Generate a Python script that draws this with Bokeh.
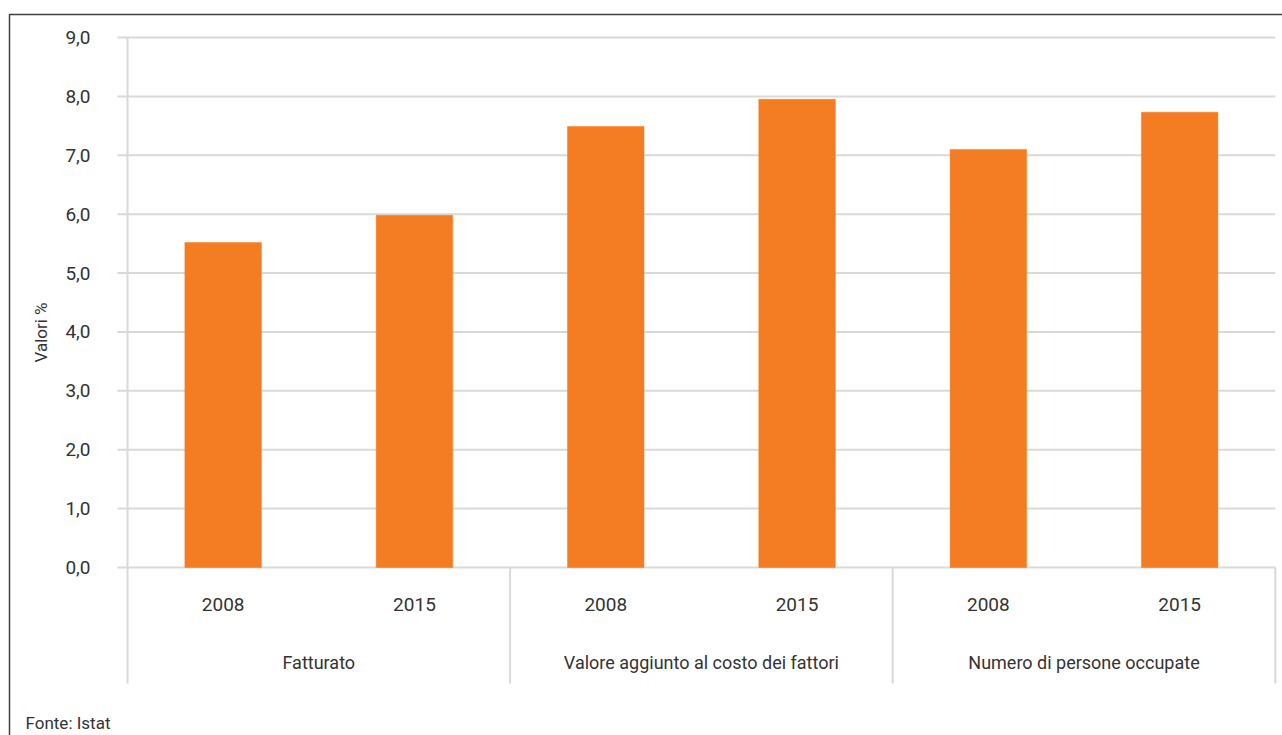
from bokeh.plotting import figure
from bokeh.models import ColumnDataSource, Range1d
from bokeh.core.properties import value
from bokeh.embed import file_html
from bokeh.resources import INLINE
import math

# ---- data ----
groups = ["Fatturato", "Valore aggiunto al costo dei fattori", "Numero di persone occupate"]
years = ["2008", "2015"]
values = [5.52, 5.98, 7.49, 7.95, 7.10, 7.73]
y_ticks = [0, 1, 2, 3, 4, 5, 6, 7, 8, 9]
y_tick_labels = ["0,0", "1,0", "2,0", "3,0", "4,0", "5,0", "6,0", "7,0", "8,0", "9,0"]
y_title = "Valori %"
source_note = "Fonte: Istat"

# ---- layout constants (pixels) ----
W, H = 1282, 735
PX_X = 191.3           # pixels per category unit
X0 = 127               # figure px of x=0
PX_Y = 530.0 / 9.0     # pixels per y unit
Y0 = 567               # figure px (from top) of y=0

def dx(px):  # figure px -> data x
    return (px - X0) / PX_X

def dy(py):  # figure px from top -> data y
    return (Y0 - py) / PX_Y

FONT = value("Roboto")
TXT = "#333333"
GRID = "#d9d9d9"
ORANGE = "#F47C22"

p = figure(width=W, height=H, output_backend="svg", toolbar_location=None,
           x_range=Range1d(dx(0), dx(W)), y_range=Range1d(dy(H), dy(0)),
           min_border=0, min_border_left=0, min_border_right=0,
           min_border_top=0, min_border_bottom=0)
p.axis.visible = False
p.grid.visible = False
p.outline_line_color = None
p.background_fill_color = "white"
p.border_fill_color = "white"

n = len(groups) * len(years)
xs = [i + 0.5 for i in range(n)]

# gridlines (with outward tick extension)
p.segment(x0=[dx(X0 - 10)] * len(y_ticks), y0=y_ticks, x1=[6.0] * len(y_ticks), y1=y_ticks,
          line_color=GRID, line_width=2)

# y axis line and group separators
y_sep = dy(683)
p.segment(x0=[0, 2, 4, 6], y0=[y_ticks[-1], 0, 0, 0], x1=[0, 2, 4, 6], y1=[y_sep] * 4,
          line_color=GRID, line_width=2)

# bars
src = ColumnDataSource(dict(x=xs, top=values))
p.vbar(x="x", top="top", bottom=0, width=0.4, source=src,
       fill_color=ORANGE, line_color=ORANGE, line_width=0.5)

# y tick labels
p.text(x=[dx(90)] * len(y_ticks), y=y_ticks, text=y_tick_labels,
       text_font=FONT, text_font_size="19px", text_color=TXT,
       text_align="right", text_baseline="middle")

# x year labels
p.text(x=xs, y=[dy(604)] * n, text=years * len(groups),
       text_font=FONT, text_font_size="19px", text_color=TXT,
       text_align="center", text_baseline="middle")

# group labels
p.text(x=[1, 3, 5], y=[dy(662)] * 3, text=groups,
       text_font=FONT, text_font_size="18px", text_color=TXT,
       text_align="center", text_baseline="middle")

# y axis title
p.text(x=[dx(40)], y=[dy(332)], text=[y_title], angle=math.pi / 2,
       text_font=FONT, text_font_size="17px", text_color=TXT,
       text_align="center", text_baseline="middle")

# source note
p.text(x=[dx(25)], y=[dy(722)], text=[source_note],
       text_font=FONT, text_font_size="17px", text_color=TXT,
       text_align="left", text_baseline="middle")

# outer frame (top and left edges)
p.line(x=[dx(9), dx(9), dx(W + 5)], y=[dy(H + 5), dy(14), dy(14)],
       line_color="#404040", line_width=1.5)

open("out.html", "w").write(file_html(p, INLINE))
